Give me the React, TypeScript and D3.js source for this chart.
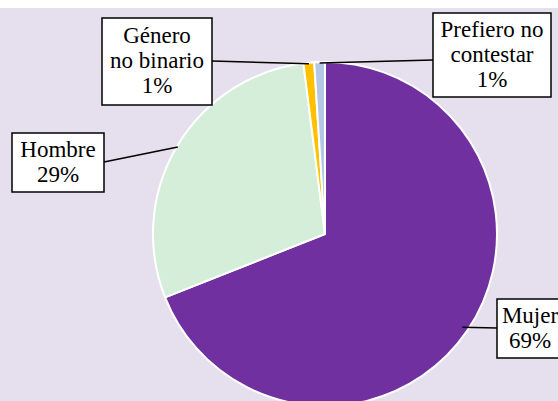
import React from "react";
import * as d3 from "d3";

// slice data, in drawing order (clockwise from 12 o'clock)
const categories = ["Mujer", "Hombre", "Género no binario", "Prefiero no contestar"];
const values = [69, 29, 1, 1];
const colors = ["#7030A0", "#D5EEDA", "#FFC000", "#B4C7E7"];
// label text lines (last line is the percent)
const labelLines = [["Mujer"], ["Hombre"], ["Género", "no binario"], ["Prefiero no", "contestar"]];
// label boxes: x, y, w, h and where the leader meets the box
const labelBoxes = [
  { x: 497, y: 299, w: 66, h: 59, side: "left", ly: 328 },
  { x: 12, y: 133, w: 92, h: 59, side: "right", ly: 162 },
  { x: 102, y: 18, w: 110, h: 87, side: "right", ly: 61 },
  { x: 433, y: 13, w: 118, h: 84, side: "left", ly: 60 },
];

const width = 558;
const height = 401;
const cx = 325;
const cy = 234;
const r = 172;

export default function App() {
  const pie = d3.pie<number>().sort(null).value(d => d);
  const arcs = pie(values);
  const arc = d3.arc<d3.PieArcDatum<number>>().innerRadius(0).outerRadius(r);
  const total = d3.sum(values);

  return (
    <svg
      width={width}
      height={height}
      style={{ position: "absolute", left: 0, top: 0, fontFamily: "'Liberation Serif', 'Times New Roman', serif" }}
    >
      <rect width={width} height={height} fill="#fff" />
      <rect y={8} width={width} height={height - 8} fill="#E6E0EE" />

      <g transform={`translate(${cx},${cy})`}>
        {arcs.map((d, i) => (
          <path
            key={categories[i]}
            d={arc(d) || ""}
            fill={colors[i]}
            stroke="#fff"
            strokeWidth={2}
            strokeLinejoin="round"
          />
        ))}
      </g>

      {/* leader lines */}
      {arcs.map((d, i) => {
        const b = labelBoxes[i];
        const a = (d.startAngle + d.endAngle) / 2;
        const inset = i === 0 ? 6 : 1;
        const px = cx + (r - inset) * Math.sin(a);
        const py = cy - (r - inset) * Math.cos(a);
        const bx = b.side === "left" ? b.x : b.x + b.w;
        return (
          <line key={"l" + i} x1={px} y1={py} x2={bx} y2={b.ly} stroke="#000" strokeWidth={1.5} />
        );
      })}

      {/* label boxes */}
      {arcs.map((d, i) => {
        const b = labelBoxes[i];
        const lines = [...labelLines[i], `${Math.round((values[i] / total) * 100)}%`];
        const lineH = 25;
        const top = Math.round(b.y + b.h / 2 - (lines.length * lineH) / 2);
        return (
          <g key={"b" + i}>
            <rect x={b.x} y={b.y} width={b.w} height={b.h} fill="#fff" stroke="#000" strokeWidth={1.5} />
            {lines.map((t, j) => (
              <text
                key={j}
                x={b.x + b.w / 2}
                y={top + j * lineH + 19}
                textAnchor="middle"
                style={{ fontFamily: "'Liberation Serif', 'Times New Roman', serif", fontSize: "23px" }}
                fill="#000"
              >
                {t}
              </text>
            ))}
          </g>
        );
      })}
    </svg>
  );
}
